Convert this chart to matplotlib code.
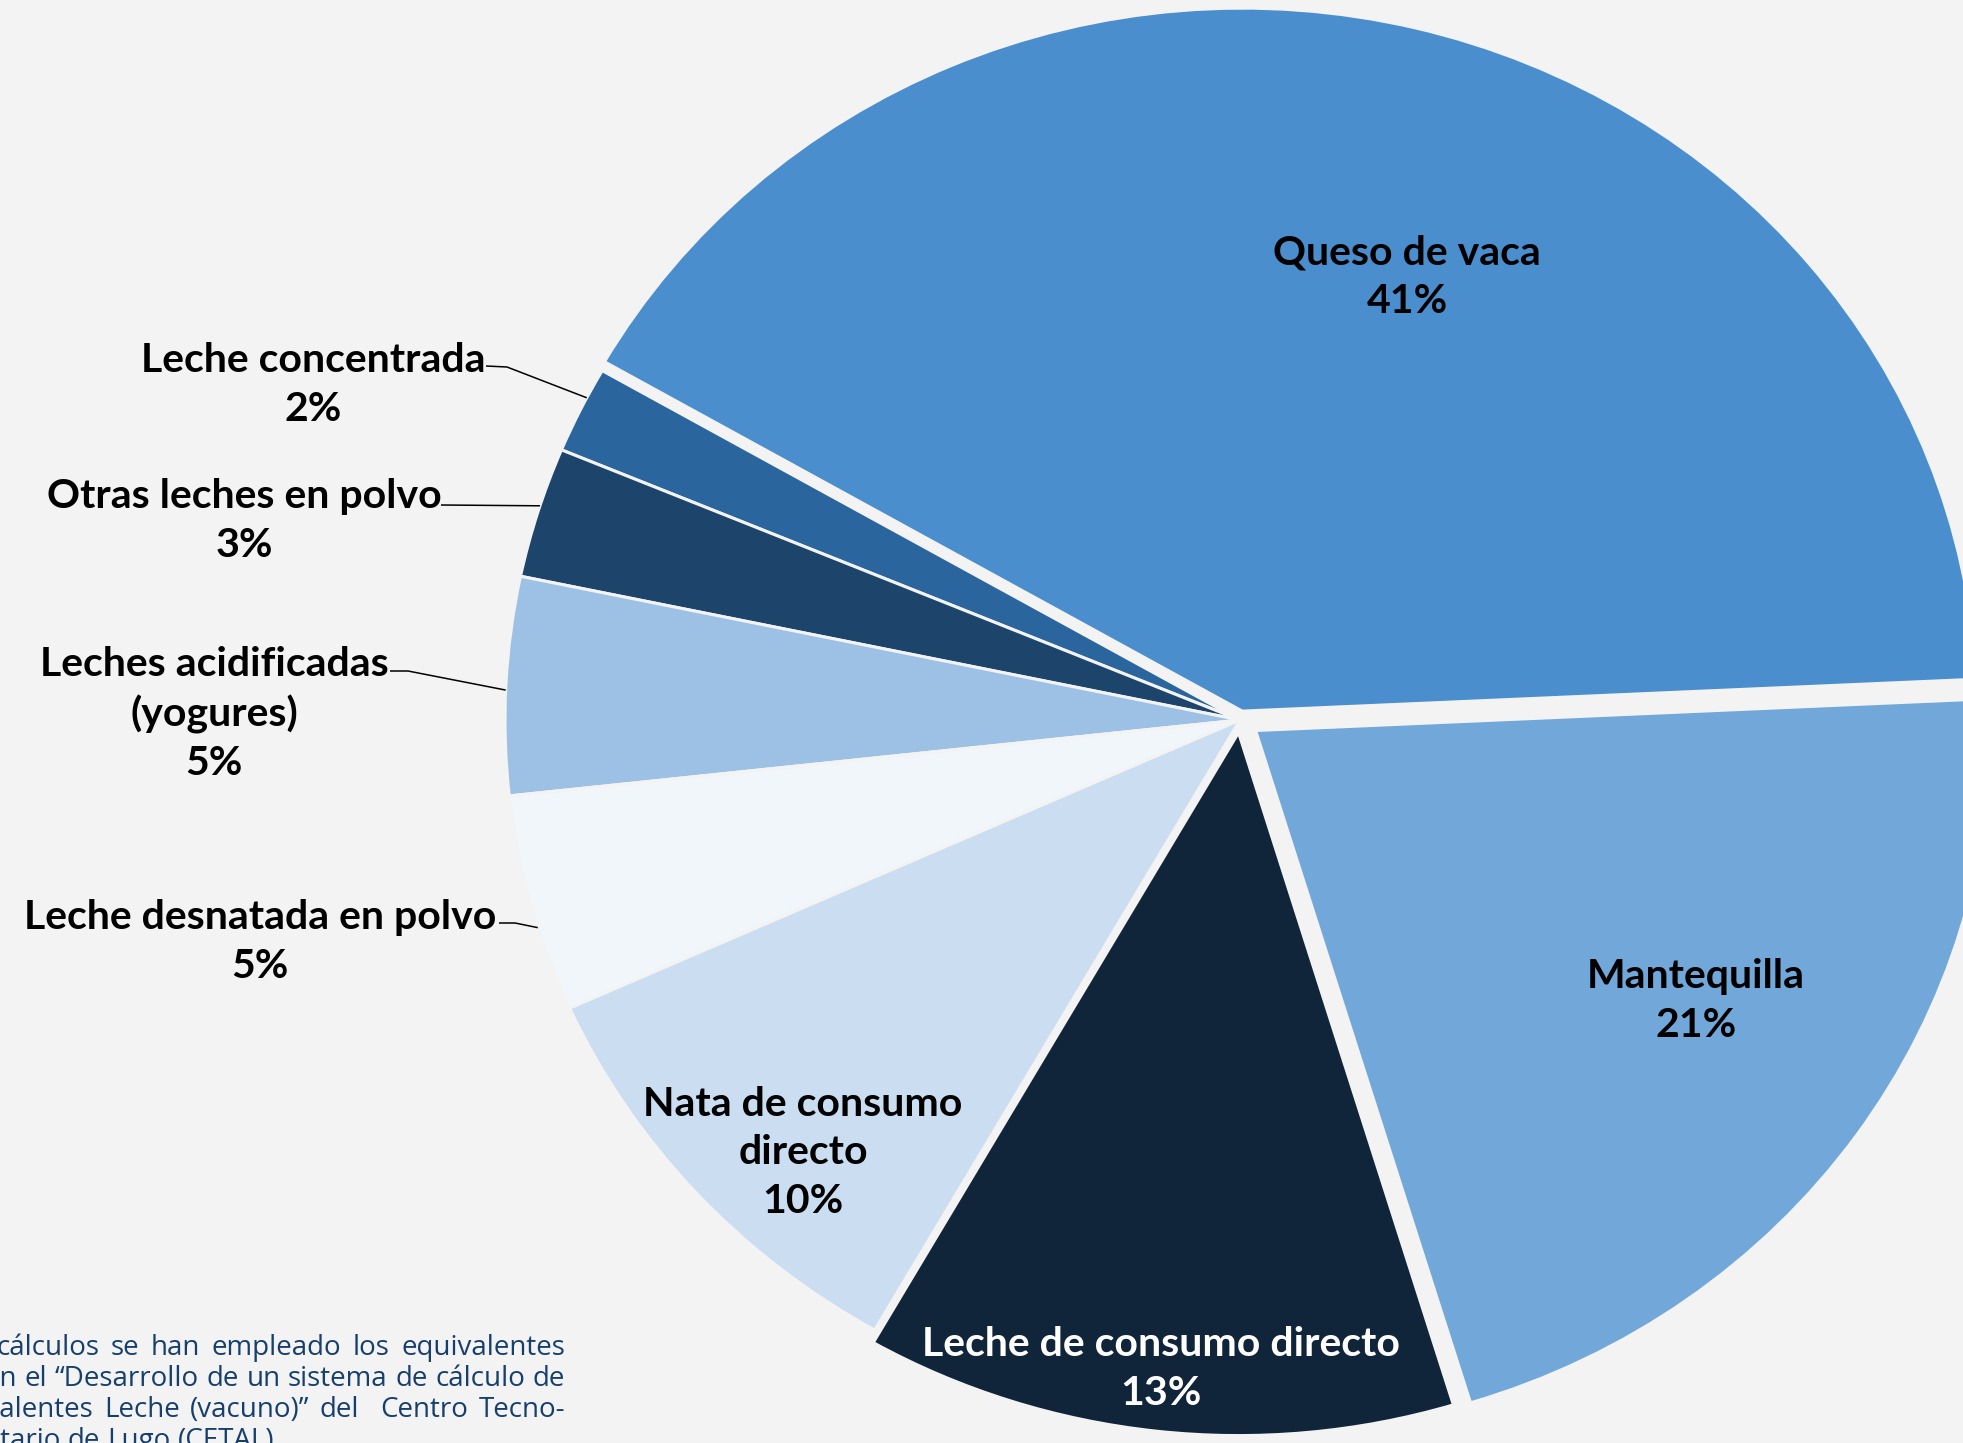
import matplotlib
matplotlib.use("Agg")
import matplotlib.pyplot as plt
from matplotlib.transforms import IdentityTransform
import numpy as np

# milk equivalents by product (%), listed counterclockwise starting at cheese
products = ["Queso de vaca", "Leche concentrada", "Otras leches en polvo",
            "Leches acidificadas\n(yogures)", "Leche desnatada en polvo",
            "Nata de consumo\ndirecto", "Leche de consumo directo", "Mantequilla"]
shares = [41, 2, 3, 5, 5, 10, 13, 21]

colors = ["#4A8ECE", "#2A659E", "#1D456C", "#9CC1E5",
          "#F1F6FA", "#CADDF1", "#10243A", "#71A7D9"]
explode = [0.013, 0, 0, 0, 0, 0, 0.018, 0.026]

footnote = ["Para los cálculos se han empleado los equivalentes",
            "recogidos en el “Desarrollo de un sistema de cálculo de",
            "Equivalentes Leche (vacuno)” del  Centro Tecno-",
            "lógico Agroalimentario de Lugo (CETAL)."]

bg = "#F3F3F3"
W, H = 1963, 1443
CX, CY = 1240, 720      # pie centre in pixels
SX, SY = 735, 703       # pixels per unit radius (the pie is slightly wide)


def px(x, y):
    return (x - CX) / SX, (CY - y) / SY


plt.rcParams["font.family"] = ["Lato", "DejaVu Sans"]

fig = plt.figure(figsize=(W / 100, H / 100), dpi=100, facecolor=bg)
ax = fig.add_axes([0, 0, 1, 1])
wedges, _ = ax.pie(shares, colors=colors, explode=explode, startangle=2.6,
                   counterclock=True, radius=1,
                   wedgeprops=dict(edgecolor=bg, linewidth=2.2))
ax.set_aspect("auto")
ax.set_xlim(-CX / SX, (W - CX) / SX)
ax.set_ylim(-(H - CY) / SY, CY / SY)
ax.axis("off")

fs = 29.5
ls = 1.38
# labels sitting on the big slices
inside = {0: (1407, 277, "black"), 5: (803, 1153, "black"),
          6: (1161, 1369, "white"), 7: (1696, 1001, "black")}
for i, (x, y, c) in inside.items():
    ax.text(*px(x, y), f"{products[i]}\n{shares[i]}%", ha="center", va="center",
            fontsize=fs, fontweight="bold", color=c, linespacing=ls)

# small slices get labels outside with a leader line
# (label centre, leader start, knee, where along the slice arc it lands)
outside = {1: ((313, 385), (486, 366), (507, 367), 0.35),
           2: ((244, 521), (441, 505), None, 0.45),
           3: ((214, 714), (390, 671), (408, 671), 0.52),
           4: ((260, 942), (499, 923), (515, 923), 0.61)}
for i, (pos, start, knee, f) in outside.items():
    ax.text(*px(*pos), f"{products[i]}\n{shares[i]}%", ha="center", va="center",
            fontsize=fs, fontweight="bold", color="black", linespacing=ls)
    w = wedges[i]
    a = np.deg2rad(w.theta1 + f * (w.theta2 - w.theta1))
    end = (w.center[0] + w.r * np.cos(a), w.center[1] + w.r * np.sin(a))
    pts = [px(*start)] + ([px(*knee)] if knee else []) + [end]
    xs, ys = zip(*pts)
    ax.plot(xs, ys, color="black", lw=1.1, solid_capstyle="butt")

# justified note at the bottom left; it runs off the page edge
renderer = fig.canvas.get_renderer()
note_style = dict(fontsize=20, color="#173F6C", family=["Open Sans", "DejaVu Sans"],
                  va="baseline", ha="left", transform=IdentityTransform())


def width(s):
    if not s:
        return 0.0
    t = fig.text(0, 0, s, **note_style)
    w = t.get_window_extent(renderer).width
    t.remove()
    return w


RIGHT = 565
# (first visible word, characters of it hidden past the edge, x where it shows, justified)
anchors = [(2, 0, -4, True), (1, 1, 0, True), (0, 5, 0, True), (1, 10, 0, False)]
baselines = [1355, 1386, 1417, 1448]
space = width("a a") - width("aa")
for line, (k, cut, xvis, just), yb in zip(footnote, anchors, baselines):
    words = line.split(" ")   # a double space leaves an empty word, i.e. a wider gap
    ws = [width(wd) for wd in words]
    start_k = xvis - (width(words[k][:cut]) if cut else 0)
    if just:
        gap = (RIGHT - start_k - sum(ws[k:])) / (len(words) - 1 - k)
    else:
        gap = space
    xs = [0.0] * len(words)
    xs[k] = start_k
    for j in range(k + 1, len(words)):
        xs[j] = xs[j - 1] + ws[j - 1] + gap
    for j in range(k - 1, -1, -1):
        xs[j] = xs[j + 1] - gap - ws[j]
    for wd, x in zip(words, xs):
        if wd:
            fig.text(x, H - yb, wd, **note_style)

fig.savefig("out.png", dpi=100, facecolor=bg)
